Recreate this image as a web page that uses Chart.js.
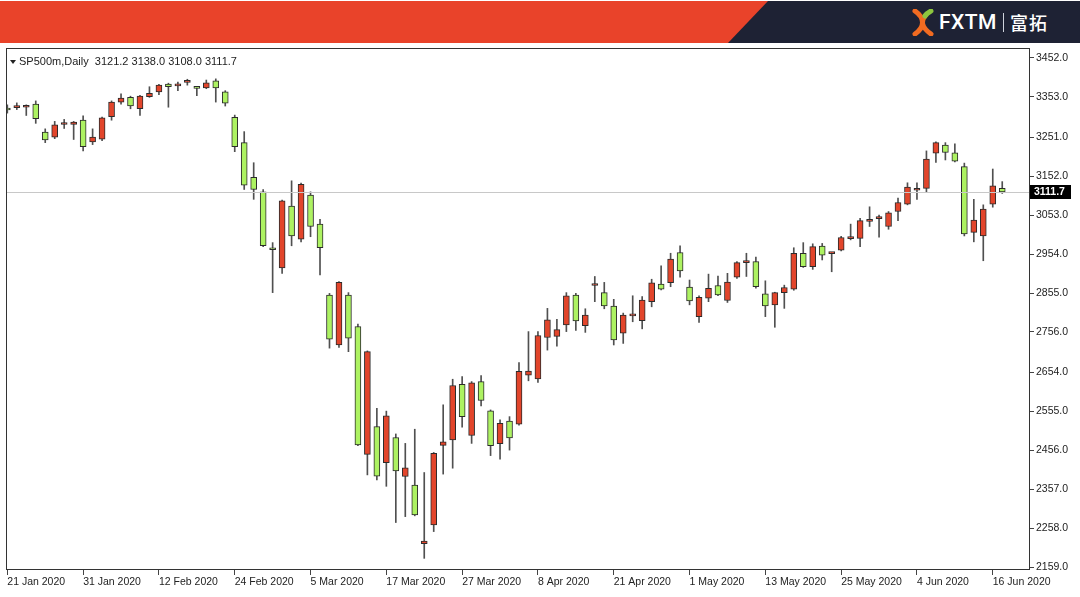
<!DOCTYPE html>
<html><head><meta charset="utf-8">
<script src="https://cdn.jsdelivr.net/npm/chart.js@4.4.1/dist/chart.umd.min.js"></script>
<style>
html,body{margin:0;padding:0;background:#fff;width:1080px;height:597px;overflow:hidden}
#wrap{position:relative;width:1080px;height:597px}
canvas{position:absolute;left:0;top:0}
#banner{position:absolute;left:0;top:1px;width:1080px;height:42px;background:#E9432A;z-index:2}
#navy{position:absolute;left:0;top:1px;width:1080px;height:42px;background:#1E2234;z-index:3;clip-path:polygon(768px 0,1080px 0,1080px 42px,728px 42px)}
#logo{position:absolute;left:912px;top:8px;height:28px;display:flex;align-items:center;color:#fff;z-index:4}
#logo .fx{font-family:Roboto,'Liberation Sans',sans-serif;font-weight:500;font-size:21px;letter-spacing:0.5px;margin-left:5px}
#logo .sep{width:1px;height:19px;background:#cfd3dc;margin:0 6px}
#logo .cn{font-family:'Noto Sans CJK SC',sans-serif;font-weight:500;font-size:18px;letter-spacing:1px}
</style></head>
<body><div id="wrap">
<canvas id="c" width="1080" height="597"></canvas>
<div id="banner"></div><div id="navy"></div>
<div id="logo">
<svg width="22" height="27" viewBox="0 0 22 27"><path d="M3 2 C13 9,13 18,3 25" stroke="#F26B21" stroke-width="5" fill="none" stroke-linecap="round"/><path d="M19 25 C9 18,9 12,13 7" stroke="#F26B21" stroke-width="5" fill="none" stroke-linecap="round"/><path d="M13 7 C15 4,17 3,19 2" stroke="#8DC63F" stroke-width="5" fill="none" stroke-linecap="round"/></svg>
<span class="fx">FXTM</span><span class="sep"></span><span class="cn">富拓</span>
</div>
</div>
<script>
const symbolName = 'SP500m,Daily';
const dates = [
'21 Jan 2020','22 Jan 2020','23 Jan 2020','24 Jan 2020','27 Jan 2020','28 Jan 2020','29 Jan 2020','30 Jan 2020','31 Jan 2020',
'3 Feb 2020','4 Feb 2020','5 Feb 2020','6 Feb 2020','7 Feb 2020','10 Feb 2020','11 Feb 2020','12 Feb 2020','13 Feb 2020','14 Feb 2020',
'17 Feb 2020','18 Feb 2020','19 Feb 2020','20 Feb 2020','21 Feb 2020','24 Feb 2020','25 Feb 2020','26 Feb 2020','27 Feb 2020','28 Feb 2020',
'2 Mar 2020','3 Mar 2020','4 Mar 2020','5 Mar 2020','6 Mar 2020','9 Mar 2020','10 Mar 2020','11 Mar 2020','12 Mar 2020','13 Mar 2020',
'16 Mar 2020','17 Mar 2020','18 Mar 2020','19 Mar 2020','20 Mar 2020','23 Mar 2020','24 Mar 2020','25 Mar 2020','26 Mar 2020','27 Mar 2020',
'30 Mar 2020','31 Mar 2020','1 Apr 2020','2 Apr 2020','3 Apr 2020','6 Apr 2020','7 Apr 2020','8 Apr 2020','9 Apr 2020',
'13 Apr 2020','14 Apr 2020','15 Apr 2020','16 Apr 2020','17 Apr 2020','20 Apr 2020','21 Apr 2020','22 Apr 2020','23 Apr 2020','24 Apr 2020',
'27 Apr 2020','28 Apr 2020','29 Apr 2020','30 Apr 2020','1 May 2020','4 May 2020','5 May 2020','6 May 2020','7 May 2020','8 May 2020',
'11 May 2020','12 May 2020','13 May 2020','14 May 2020','15 May 2020','18 May 2020','19 May 2020','20 May 2020','21 May 2020','22 May 2020',
'25 May 2020','26 May 2020','27 May 2020','28 May 2020','29 May 2020','1 Jun 2020','2 Jun 2020','3 Jun 2020','4 Jun 2020','5 Jun 2020',
'8 Jun 2020','9 Jun 2020','10 Jun 2020','11 Jun 2020','12 Jun 2020','15 Jun 2020','16 Jun 2020','17 Jun 2020'
];
const opens = [
3322,3326,3327,3335,3264,3251,3283,3283,3294,
3239,3246,3303,3340,3352,3323,3354,3366,3386,3381,
3390,3376,3376,3394,3366,3301,3237,3149,3112,2967,
2919,3076,2992,3104,3030,2850,2723,2850,2770,2445,
2516,2424,2488,2389,2367,2218,2266,2468,2482,2623,
2493,2630,2556,2472,2530,2522,2646,2637,2742,
2745,2774,2850,2772,2874,2856,2822,2753,2797,2785,
2833,2878,2881,2958,2870,2795,2842,2874,2836,2895,
2932,2935,2853,2825,2856,2865,2956,2922,2974,2955,
2964,2993,2994,3037,3044,3024,3062,3081,3116,3121,
3210,3231,3211,3176,3009,3000,3081,3121.2
];
const highs = [
3333,3338,3333,3343,3272,3291,3296,3291,3305,
3272,3302,3343,3361,3355,3357,3379,3385,3388,3391,
3398,3378,3396,3399,3369,3307,3265,3186,3118,2983,
3091,3140,3134,3112,3042,2854,2884,2856,2776,2708,
2562,2555,2497,2473,2509,2399,2450,2571,2636,2643,
2630,2645,2558,2533,2541,2678,2757,2757,2816,
2788,2856,2854,2815,2897,2882,2839,2804,2848,2846,
2890,2924,2956,2975,2888,2848,2903,2898,2905,2935,
2956,2946,2886,2857,2875,2970,2983,2980,2981,2958,
2999,3030,3045,3074,3053,3062,3096,3135,3135,3216,
3239,3237,3234,3185,3093,3079,3170,3138.0
];
const lows = [
3312,3321,3306,3286,3237,3247,3273,3245,3216,
3232,3242,3294,3335,3323,3306,3352,3359,3327,3369,
3383,3356,3374,3340,3330,3214,3118,3093,2973,2856,
2905,2975,2985,2998,2901,2715,2717,2706,2467,2393,
2380,2364,2272,2287,2289,2181,2249,2395,2410,2514,
2473,2568,2442,2433,2456,2519,2632,2628,2710,
2720,2757,2760,2755,2833,2815,2723,2727,2782,2764,
2820,2863,2871,2895,2825,2780,2833,2848,2831,2892,
2897,2867,2795,2768,2816,2862,2920,2915,2939,2909,
2962,2990,2973,3024,2997,3017,3039,3079,3093,3110,
3187,3193,3188,3000,2985,2937,3073,3108.0
];
const closes = [
3320,3327,3332,3298,3244,3282,3285,3289,3227,
3251,3300,3340,3350,3330,3355,3362,3383,3379,3383,
3392,3375,3389,3376,3337,3227,3129,3118,2975,2965,
3089,3000,3131,3024,2970,2738,2882,2740,2469,2706,
2390,2543,2403,2411,2291,2225,2448,2477,2620,2541,
2627,2582,2467,2524,2487,2656,2657,2747,2787,
2762,2848,2784,2799,2876,2822,2736,2799,2799,2837,
2881,2865,2941,2911,2835,2844,2867,2850,2883,2932,
2934,2871,2822,2856,2869,2956,2922,2973,2951,2957,
2996,2995,3039,3039,3046,3059,3085,3124,3118,3195,
3237,3212,3190,3005,3040,3068,3127,3111.7
];
const yTickValues = [3452.0,3353.0,3251.0,3152.0,3053.0,2954.0,2855.0,2756.0,2654.0,2555.0,2456.0,2357.0,2258.0,2159.0];
const xTickLabels = ['21 Jan 2020','31 Jan 2020','12 Feb 2020','24 Feb 2020','5 Mar 2020','17 Mar 2020','27 Mar 2020','8 Apr 2020','21 Apr 2020','1 May 2020','13 May 2020','25 May 2020','4 Jun 2020','16 Jun 2020'];

const UP = '#E2452B', DOWN = '#ADF262', EDGE = '#2b2b2b', WICK = '#505050';
const N = dates.length, last = N - 1;
const wickData = dates.map((d,i)=>({x:i, y:[lows[i], highs[i]]}));
const bodyData = dates.map((d,i)=>({x:i, y:[opens[i], closes[i]]}));
const bodyColors = dates.map((d,i)=> closes[i] > opens[i] ? UP : DOWN);
const xTickIdx = xTickLabels.map(l => dates.indexOf(l));
const FONT = "'Liberation Sans', Arial, sans-serif";

const decor = {
  id:'decor',
  afterDatasetsDraw(chart){
    const {ctx, chartArea:a, scales:{y}} = chart;
    ctx.save();
    const py = Math.round(y.getPixelForValue(closes[last])) + 0.5;
    ctx.strokeStyle = '#c8c8c8'; ctx.lineWidth = 1;
    ctx.beginPath(); ctx.moveTo(a.left, py); ctx.lineTo(a.right, py); ctx.stroke();
    ctx.restore();
  },
  afterDraw(chart){
    const {ctx, chartArea:a, scales:{y}} = chart;
    ctx.save();
    ctx.strokeStyle = '#333'; ctx.lineWidth = 1;
    ctx.strokeRect(a.left + 0.5, a.top + 0.5, a.right - a.left - 1, a.bottom - a.top - 1);
    ctx.fillStyle = '#222';
    ctx.beginPath(); ctx.moveTo(10, 60); ctx.lineTo(16, 60); ctx.lineTo(13, 64); ctx.closePath(); ctx.fill();
    ctx.font = '11px ' + FONT; ctx.textBaseline = 'middle'; ctx.textAlign = 'left';
    ctx.fillText(symbolName + '  ' + [opens[last],highs[last],lows[last],closes[last]].map(v=>v.toFixed(1)).join(' '), 19, 62);
    const py = Math.round(y.getPixelForValue(closes[last]));
    ctx.fillStyle = '#000'; ctx.fillRect(a.right, py - 7, 41, 14);
    ctx.fillStyle = '#fff'; ctx.font = 'bold 10.5px ' + FONT;
    ctx.fillText(closes[last].toFixed(1), a.right + 4, py + 0.5);
    ctx.restore();
  }
};

new Chart(document.getElementById('c'), {
  type:'bar',
  data:{
    datasets:[
      {data: bodyData, backgroundColor: bodyColors, borderColor: EDGE, borderWidth: 1, borderSkipped: false,
       barThickness: 6, minBarLength: 2, grouped: false, order: 0},
      {data: wickData, backgroundColor: WICK, borderWidth: 0, barThickness: 1, grouped: false, order: 1}
    ]
  },
  options:{
    responsive:false, animation:false,
    layout:{padding:{left:6, top:48, right:0, bottom:0}},
    plugins:{legend:{display:false}, tooltip:{enabled:false}},
    scales:{
      x:{type:'linear', min:-0.14, max:107.93, offset:false,
         afterBuildTicks(s){ s.ticks = xTickIdx.map(v=>({value:v})); },
         afterFit(s){ s.height = 27; },
         grid:{drawOnChartArea:false, offset:false, drawTicks:true, tickLength:5, color:'#444'},
         border:{display:false},
         ticks:{autoSkip:false, maxRotation:0, align:'start', padding:1, color:'#222',
                font:{family:FONT, size:10.5}, callback:(v)=>dates[v] }},
      y:{type:'linear', position:'right', min:2151.4, max:3477.4,
         afterBuildTicks(s){ s.ticks = yTickValues.map(v=>({value:v})); },
         afterFit(s){ s.width = 50; },
         grid:{drawOnChartArea:false, drawTicks:true, tickLength:4, color:'#444'},
         border:{display:false},
         ticks:{padding:2, color:'#222', font:{family:FONT, size:10.5}, callback:(v)=>Number(v).toFixed(1)}}
    }
  },
  plugins:[decor]
});
</script>
</body></html>
